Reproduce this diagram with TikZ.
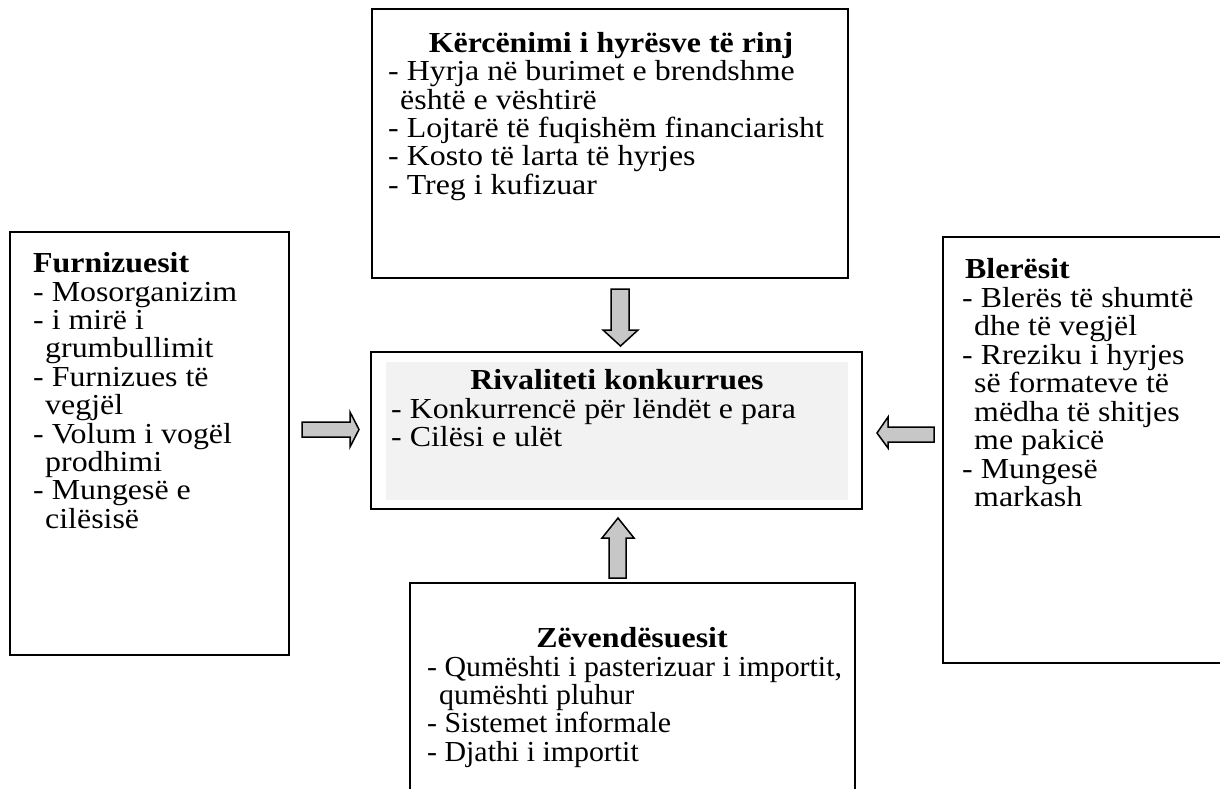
\documentclass[tikz,border=0pt]{standalone}
\usepackage{fontspec}
\setmainfont{Liberation Serif}[FakeStretch=1.1]
\newfontfamily\plainserif{Liberation Serif}[FakeStretch=1.03]
\newcommand\cont{\hspace*{12pt}}
\begin{document}
\begin{tikzpicture}[x=1pt,y=-1pt,
  box/.style={draw=black,line width=1.8pt,inner sep=0pt,fill=white},
  txt/.style={inner sep=0pt,font=\fontsize{29}{28.4}\selectfont},
  subtxt/.style={inner sep=0pt,font=\fontsize{29}{28.4}\plainserif},
  ttl/.style={inner sep=0pt,font=\fontsize{29}{28.4}\selectfont\bfseries},
  blockarrow/.style={draw=black,line width=1.5pt,fill=black!22,line join=miter}]
\useasboundingbox (0,0) rectangle (1220,789);
\clip (0,0) rectangle (1220,789);

% the five boxes
\node[box,minimum width=476pt,minimum height=269pt] (threat) at (610,143.5) {};
\node[box,minimum width=279pt,minimum height=423pt] (suppliers) at (149.5,443.5) {};
\node[box,minimum width=280pt,minimum height=426pt] (buyers) at (1083,450) {};
\node[box,minimum width=445pt,minimum height=220pt] (substitutes) at (632.5,693) {};
\node[box,minimum width=491pt,minimum height=157pt] (rivalry) at (616.5,430.5) {};
\fill[black!5] (386,362) rectangle (848,500);

% threat of new entrants
\node[ttl,anchor=base] (threat-title) at (611,53) {Kërcënimi i hyrësve të rinj};
\foreach \t [count=\i] in {{- Hyrja në burimet e brendshme},{\cont është e vështirë},
  {- Lojtarë të fuqishëm financiarisht},{- Kosto të larta të hyrjes},{- Treg i kufizuar}}
  \node[txt,anchor=base west] (threat-\i) at (388,{81+28.3*(\i-1)}) {\t};

% suppliers
\node[ttl,anchor=base west] (suppliers-title) at (33,272) {Furnizuesit};
\foreach \t [count=\i] in {{- Mosorganizim},{- i mirë i},{\cont grumbullimit},
  {- Furnizues të},{\cont vegjël},{- Volum i vogël},{\cont prodhimi},
  {- Mungesë e},{\cont cilësisë}}
  \node[txt,anchor=base west] (suppliers-\i) at (33,{301+28.4*(\i-1)}) {\t};

% buyers
\node[ttl,anchor=base west] (buyers-title) at (965,278) {Blerësit};
\foreach \t [count=\i] in {{- Blerës të shumtë},{\cont dhe të vegjël},
  {- Rreziku i hyrjes},{\cont së formateve të},{\cont mëdha të shitjes},
  {\cont me pakicë},{- Mungesë},{\cont markash}}
  \node[txt,anchor=base west] (buyers-\i) at (962,{307+28.5*(\i-1)}) {\t};

% competitive rivalry
\node[ttl,anchor=base] (rivalry-title) at (617,389) {Rivaliteti konkurrues};
\foreach \t [count=\i] in {{- Konkurrencë për lëndët e para},{- Cilësi e ulët}}
  \node[txt,anchor=base west] (rivalry-\i) at (391,{418+28.4*(\i-1)}) {\t};

% substitutes
\node[ttl,anchor=base] (substitutes-title) at (632,647) {Zëvendësuesit};
\foreach \t [count=\i] in {{- Qumështi i pasterizuar i importit,},{\cont qumështi pluhur},
  {- Sistemet informale},{- Djathi i importit}}
  \node[subtxt,anchor=base west] (substitutes-\i) at (427,{676+28.4*(\i-1)}) {\t};

% block arrows towards the rivalry box
\draw[blockarrow] (611,289) -- (629,289) -- (629,330) -- (638,330) -- (620.5,346)
  -- (603,330) -- (611,330) -- cycle;
\draw[blockarrow] (609,578) -- (626,578) -- (626,538) -- (634,538) -- (618,518)
  -- (602,538) -- (609,538) -- cycle;
\draw[blockarrow] (302,422) -- (350,422) -- (350,412) -- (359,429.5) -- (350,447)
  -- (350,437) -- (302,437) -- cycle;
\draw[blockarrow] (934,427) -- (888,427) -- (888,417) -- (877,433) -- (888,448)
  -- (888,442) -- (934,442) -- cycle;
\end{tikzpicture}
\end{document}
